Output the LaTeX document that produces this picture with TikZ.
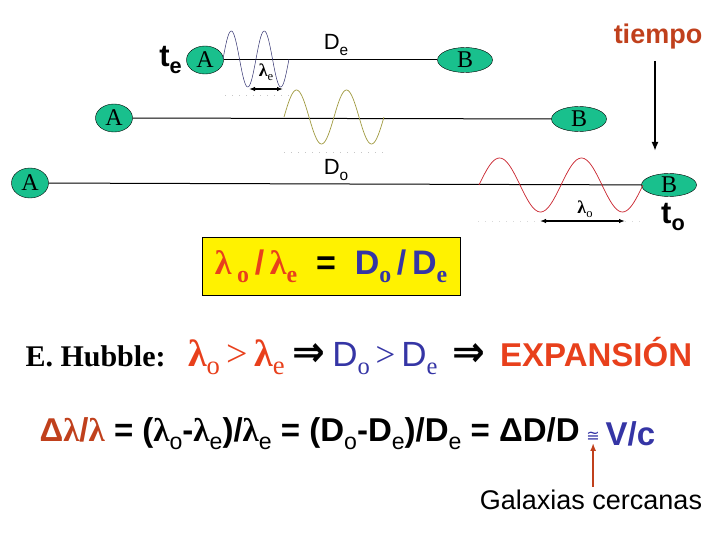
\documentclass[tikz,border=0pt]{standalone}
\usepackage{fontspec}
\setmainfont{Liberation Serif}
\setsansfont{Liberation Sans}
\newfontfamily\symfont{DejaVu Sans}
\usetikzlibrary{positioning,arrows.meta,shapes.geometric}
\definecolor{galgreen}{HTML}{19C08D}
\definecolor{lamred}{HTML}{E8401C}
\definecolor{dblue}{HTML}{3535A5}
\definecolor{timered}{HTML}{C0401C}
\definecolor{wavenavy}{HTML}{30306E}
\definecolor{waveolive}{HTML}{A09A40}
\definecolor{wavered}{HTML}{C8202A}
\newcommand{\lo}[1]{\raisebox{-0.45ex}{\scalebox{0.7}{#1}}}
\newcommand{\lam}{{\rmfamily\bfseries λ}}
\newcommand{\fs}[1]{\fontsize{#1}{#1}\selectfont}
\newcommand{\implies}{{\symfont\bfseries\fs{34}\scalebox{1.15}[1.25]{⇒}}}
\begin{document}
\begin{tikzpicture}[x=1pt,y=-1pt,
  galaxy/.style={ellipse,draw,fill=galgreen,inner sep=0pt,minimum width=37,minimum height=28,font=\rmfamily\fs{24}},
  galaxyB/.style={galaxy,minimum width=55,minimum height=25},
  dist/.style={font=\sffamily\fs{22}},
  track/.style={line width=1pt},
  wave/.style={line width=0.7pt,domain=0:2,samples=90,smooth},
  ruler/.style={gray!45,line width=1pt,dash pattern=on 1pt off 6pt},
  span/.style={{Latex[length=6pt]}-{Latex[length=6pt]},line width=1.4pt}]
\useasboundingbox (0,0) rectangle (720,540);
% emission, t_e
\node[galaxy] (A1) at (205,60) {A};
\node[galaxyB] (B1) at (465,60) {B};
\node[left=1pt of A1,font=\sffamily\bfseries\fs{31}] (te) {t\lo{e}};
\draw[track] (A1) -- (B1);
\node[dist] (De) at (336,45) {D\lo{e}};
\draw[wave,wavenavy,line width=0.5pt] plot ({223+33*\x},{59-28*sin(360*\x)});
\draw[ruler] (225,96) -- (289,96);
\coordinate (le1) at (249,89);
\coordinate (le2) at (283,89);
\draw[span,line width=1.2pt] (le1) -- (le2);
\node[font=\fs{18}] (lame) at (266,72) {\lam\lo{e}};
% middle
\node[galaxy] (A2) at (114,118) {A};
\node[galaxyB] (B2) at (579,119) {B};
\draw[track] (A2) -- (B2);
\draw[wave,waveolive] plot ({284+50*\x},{117-27*sin(360*\x)});
\draw[ruler] (284,153) -- (386,153);
% observation, t_o
\node[galaxy,minimum height=30] (A3) at (30,183) {A};
\node[galaxyB,minimum height=23] (B3) at (669,185) {B};
\draw[track] (A3) -- (B3);
\node[dist] (Do) at (336,170) {D\lo{o}};
\draw[wave,wavered] plot ({479+82*\x},{185-27*sin(360*\x)});
\draw[ruler,gray!30] (478,222) -- (640,222);
\coordinate (lo1) at (540,221);
\coordinate (lo2) at (625,221);
\draw[span] (lo1) -- (lo2);
\node[font=\fs{18}] (lamo) at (585,209) {\lam\lo{o}};
\node[font=\sffamily\bfseries\fs{31}] (to) at (673,217) {t\lo{o}};
% time arrow
\node[font=\sffamily\bfseries\fs{27},text=timered] (tiempo) at (658,37) {tiempo};
\coordinate (t1) at (655,61);
\coordinate (t2) at (655,151);
\draw[-{Latex[length=9pt,width=7pt]},line width=2pt] (t1) -- (t2);
% ratio box
\node[draw,fill=yellow,line width=1pt,minimum width=258,minimum height=58,font=\sffamily\bfseries\fs{34}] (ratio) at (331,266)
  {\textcolor{lamred}{\lam\,\lo{\rmfamily o}\,/\,\lam\lo{\rmfamily e}}\ \ =\ \ \textcolor{dblue}{D\lo{\rmfamily o}\,/\,D\lo{\rmfamily e}}};
% Hubble
\node[anchor=west,font=\fs{30}] (hubble) at (22,356)
  {\textbf{E. Hubble:}\ \ \ \textcolor{lamred}{\fs{38}\lam\lo{o}\,>\,\lam\lo{e}}\ \implies\ \textcolor{dblue}{\sffamily\fs{35}D\lo{\rmfamily o}\,\rmfamily >\,\sffamily D\lo{\rmfamily e}}\ \ \implies\ \ \textcolor{lamred}{\sffamily\bfseries\fs{33}EXPANSIÓN}};
% Hubble law
\node[anchor=west,font=\sffamily\bfseries\fs{33}] (law) at (36,434)
  {\textcolor{timered}{Δ\lam/\lam} = (\lam\lo{\mdseries o}-\lam\lo{\mdseries e})/\lam\lo{\mdseries e} = (D\lo{\mdseries o}-D\lo{\mdseries e})/D\lo{\mdseries e} = ΔD/D};
\node[right=2pt of law.east,anchor=west,inner sep=1pt,font=\symfont\fs{16},text=dblue,yshift=-3pt] (approx) {≅};
\node[right=1pt of approx.east,anchor=west,font=\sffamily\bfseries\fs{33},text=dblue,yshift=3pt] (vc) {V/c};
\node[font=\sffamily\fs{27}] (near) at (591,500) {Galaxias cercanas};
\draw[-{Latex[length=8pt,width=6pt]},line width=1.6pt,timered] (near.north -| approx.south) -- (approx.south);
\end{tikzpicture}
\end{document}
